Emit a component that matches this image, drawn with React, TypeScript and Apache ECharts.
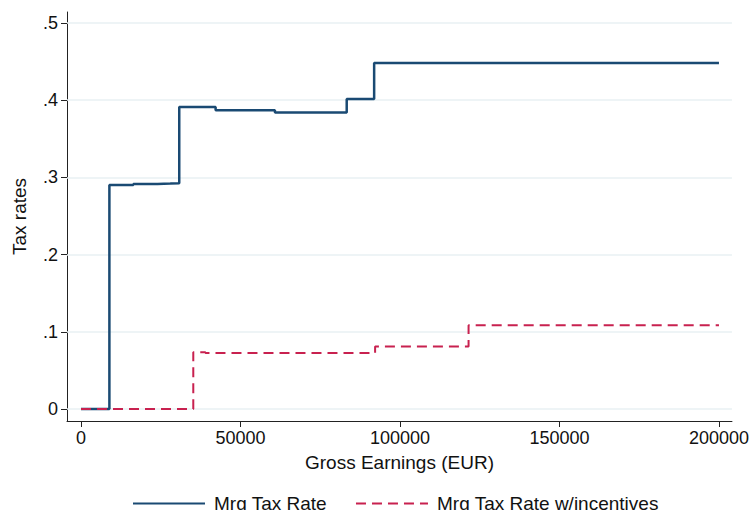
import React, { useEffect, useRef } from "react";
import * as echarts from "echarts";

// Gross earnings (EUR) at which each rate starts, and the rate (step functions)
const mrgEarnings = [0, 8900, 16400, 24000, 28000, 30800, 42200, 60800, 83300, 91900, 200000];
const mrgRate = [0, 0.29, 0.2915, 0.292, 0.2925, 0.391, 0.387, 0.384, 0.4015, 0.448, 0.448];

const incEarnings = [0, 35200, 39000, 92200, 121500, 200000];
const incRate = [0, 0.0735, 0.0725, 0.081, 0.1085, 0.1085];

const xTicks = [0, 50000, 100000, 150000, 200000];
const yTicks = [0, 0.1, 0.2, 0.3, 0.4, 0.5];

const seriesNames = ["Mrg Tax Rate", "Mrg Tax Rate w/incentives"];

const FONT = "'Liberation Sans', Arial, Helvetica, sans-serif";

export default function App() {
  const ref = useRef<HTMLDivElement>(null);

  useEffect(() => {
    if (!ref.current) return;
    const chart = echarts.init(ref.current, undefined, { renderer: "svg" });
    const pair = (xs: number[], ys: number[]) => xs.map((x, i) => [x, ys[i]]);
    chart.setOption({
      animation: false,
      backgroundColor: "#ffffff",
      textStyle: { fontFamily: FONT },
      grid: { left: 67, top: 12, width: 665, height: 409, containLabel: false },
      xAxis: {
        type: "value",
        min: -4390,
        max: 204075,
        name: "Gross Earnings (EUR)",
        nameLocation: "middle",
        nameGap: 32,
        nameTextStyle: { fontSize: 19, color: "#111", fontFamily: FONT },
        axisLine: { show: true, onZero: false, lineStyle: { color: "#222", width: 1 } },
        axisTick: { show: true, length: 6, customValues: xTicks, lineStyle: { color: "#222" } },
        axisLabel: {
          customValues: xTicks,
          fontSize: 18,
          color: "#111",
          margin: 8,
          fontFamily: FONT,
          formatter: (v: number) => String(v),
        },
        splitLine: { show: false },
      },
      yAxis: {
        type: "value",
        min: -0.01554,
        max: 0.5142,
        name: "Tax rates",
        nameLocation: "middle",
        nameGap: 38,
        nameRotate: 90,
        nameTextStyle: { fontSize: 19, color: "#111", fontFamily: FONT },
        axisLine: { show: true, onZero: false, lineStyle: { color: "#222", width: 1 } },
        axisTick: { show: true, length: 6, customValues: yTicks, lineStyle: { color: "#222" } },
        axisLabel: {
          customValues: yTicks,
          fontSize: 18,
          color: "#111",
          margin: 9,
          fontFamily: FONT,
          formatter: (v: number) => (Math.abs(v) < 1e-9 ? "0" : v.toFixed(1).replace(/^0/, "")),
        },
        splitLine: { show: false },
      },
      legend: {
        data: seriesNames,
        left: 127,
        top: 489,
        itemWidth: 72,
        itemHeight: 16,
        itemGap: 28,
        itemStyle: { opacity: 0 },
        textStyle: { fontSize: 19, color: "#111", fontFamily: FONT, padding: [0, 0, 0, 4] },
      },
      series: [
        {
          name: "grid",
          type: "line",
          data: [],
          silent: true,
          z: 1,
          markLine: {
            silent: true,
            z: 1,
            symbol: "none",
            label: { show: false },
            lineStyle: { color: "#e9f1f3", width: 1.5, type: "solid" },
            data: yTicks.map((v) => ({ yAxis: v })),
          },
        },
        {
          name: seriesNames[0],
          type: "line",
          step: "end",
          data: pair(mrgEarnings, mrgRate),
          showSymbol: false,
          symbol: "none",
          symbolSize: 0,
          color: "#1a4a73",
          lineStyle: { color: "#1a4a73", width: 2.5, type: "solid" },
          z: 3,
        },
        {
          name: seriesNames[1],
          type: "line",
          step: "end",
          data: pair(incEarnings, incRate),
          showSymbol: false,
          symbol: "none",
          symbolSize: 0,
          color: "#c8214f",
          lineStyle: { color: "#c8214f", width: 2, type: [10, 6] },
          z: 4,
        },
      ],
    });
    return () => chart.dispose();
  }, []);

  return (
    <div
      ref={ref}
      style={{ position: "fixed", left: 0, top: 0, width: 752, height: 510, background: "#fff" }}
    />
  );
}
